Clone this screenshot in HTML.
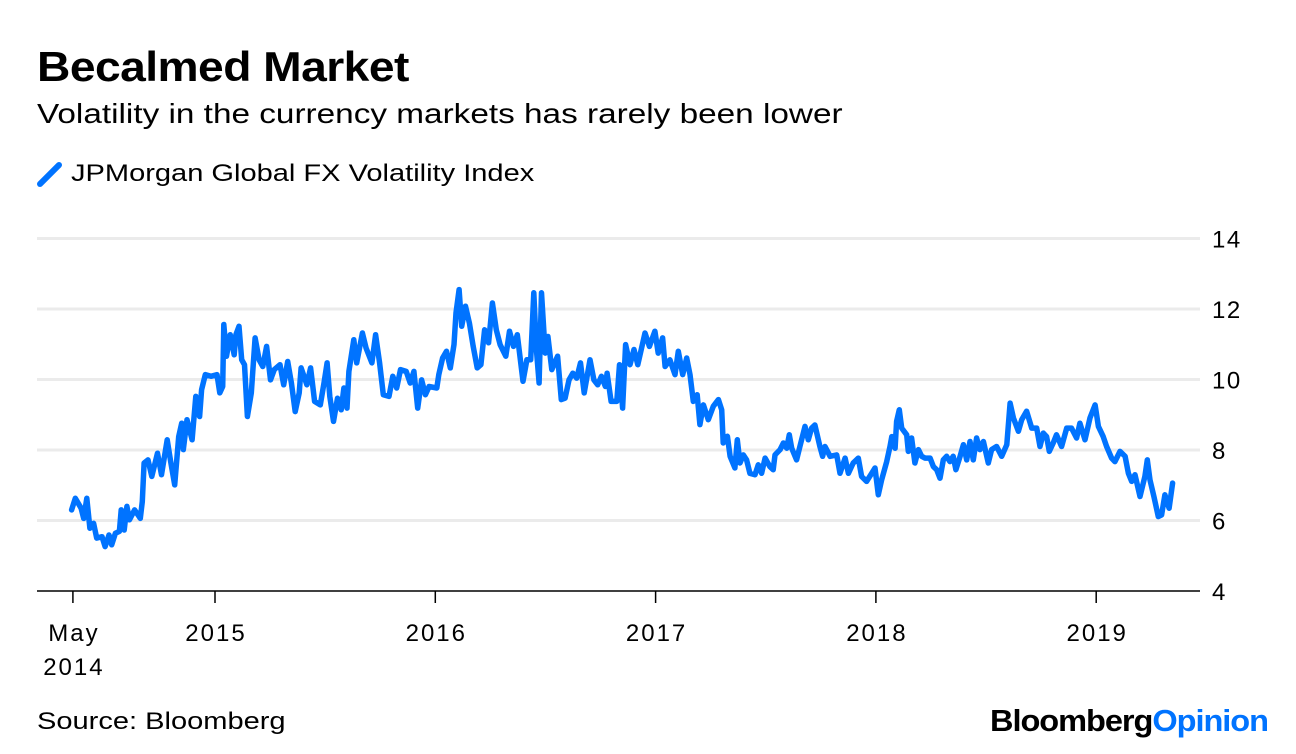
<!DOCTYPE html>
<html><head><meta charset="utf-8">
<style>
body{margin:0;background:#fff;width:1296px;height:754px;overflow:hidden;font-family:"Liberation Sans",Arial,sans-serif;}
#wrap{position:relative;width:1296px;height:754px;}
.t{position:absolute;white-space:nowrap;color:#000;transform-origin:0 50%;}
</style></head><body>
<div id="wrap">
<div class="t" style="left:37px;top:43px;font-size:42px;font-weight:bold;letter-spacing:-0.5px;transform:scaleX(1.10);">Becalmed Market</div>
<div class="t" style="left:37px;top:98px;font-size:28px;transform:scaleX(1.19);">Volatility in the currency markets has rarely been lower</div>
<div style="position:absolute;left:37px;top:160px;">
<svg width="30" height="30" style="position:absolute;left:0;top:0"><line x1="3" y1="24" x2="22" y2="5" stroke="#0073ff" stroke-width="6" stroke-linecap="round"/></svg>
<div class="t" style="left:34px;top:0px;font-size:24px;transform:scaleX(1.21);">JPMorgan Global FX Volatility Index</div>
</div>
<svg id="chart" width="1296" height="754" style="position:absolute;left:0;top:0"></svg>
<div class="t" style="left:37px;top:708px;font-size:24px;transform:scaleX(1.21);">Source: Bloomberg</div>
<div class="t" style="left:990px;top:703px;font-size:31px;font-weight:bold;letter-spacing:-1px;transform:scaleX(1.05);"><span style="color:#000">Bloomberg</span><span style="color:#0073ff">Opinion</span></div>
</div>
<script>
const dates=[2014.349,2014.366,2014.392,2014.404,2014.418,2014.432,2014.449,2014.463,2014.487,2014.501,2014.519,2014.531,2014.548,2014.566,2014.574,2014.588,2014.600,2014.612,2014.635,2014.661,2014.670,2014.678,2014.696,2014.713,2014.739,2014.757,2014.783,2014.800,2014.817,2014.835,2014.849,2014.856,2014.873,2014.896,2014.913,2014.930,2014.939,2014.956,2014.982,2015.009,2015.022,2015.035,2015.040,2015.052,2015.069,2015.087,2015.095,2015.109,2015.121,2015.134,2015.147,2015.165,2015.182,2015.200,2015.217,2015.234,2015.252,2015.269,2015.295,2015.312,2015.330,2015.347,2015.364,2015.382,2015.391,2015.417,2015.434,2015.452,2015.478,2015.495,2015.509,2015.521,2015.538,2015.556,2015.573,2015.585,2015.599,2015.608,2015.630,2015.643,2015.669,2015.686,2015.712,2015.729,2015.747,2015.764,2015.790,2015.807,2015.825,2015.842,2015.868,2015.886,2015.903,2015.920,2015.938,2015.955,2015.972,2016.007,2016.016,2016.033,2016.051,2016.068,2016.085,2016.094,2016.108,2016.120,2016.137,2016.155,2016.172,2016.190,2016.207,2016.224,2016.242,2016.259,2016.277,2016.294,2016.320,2016.337,2016.355,2016.372,2016.398,2016.416,2016.433,2016.447,2016.459,2016.471,2016.482,2016.499,2016.511,2016.529,2016.555,2016.572,2016.589,2016.607,2016.624,2016.642,2016.659,2016.676,2016.702,2016.720,2016.737,2016.754,2016.772,2016.780,2016.798,2016.824,2016.836,2016.850,2016.864,2016.884,2016.902,2016.919,
2016.952,2016.972,2016.997,2017.012,2017.032,2017.043,2017.065,2017.088,2017.103,2017.123,2017.141,2017.156,2017.171,2017.189,2017.201,2017.217,2017.239,2017.262,2017.285,2017.300,2017.307,2017.326,2017.338,2017.360,2017.371,2017.383,2017.398,2017.413,2017.428,2017.451,2017.466,2017.481,2017.497,2017.519,2017.534,2017.542,2017.565,2017.580,2017.595,2017.607,2017.618,2017.640,2017.655,2017.678,2017.693,2017.708,2017.723,2017.746,2017.758,2017.769,2017.792,2017.822,2017.837,2017.860,2017.875,2017.897,2017.920,2017.935,2017.958,2017.981,2017.996,2018.011,2018.026,2018.049,2018.064,2018.072,2018.087,2018.094,2018.106,2018.117,2018.140,2018.147,2018.162,2018.177,2018.193,2018.208,2018.223,2018.246,2018.261,2018.276,2018.291,2018.306,2018.321,2018.336,2018.351,2018.363,2018.382,2018.397,2018.412,2018.427,2018.442,2018.457,2018.472,2018.488,2018.510,2018.525,2018.548,2018.571,2018.594,2018.609,2018.624,2018.647,2018.662,2018.684,2018.707,2018.730,2018.745,2018.760,2018.775,2018.787,2018.805,2018.820,2018.843,2018.866,2018.888,2018.911,2018.926,2018.949,2018.972,2018.995,2019.010,2019.032,2019.047,2019.070,2019.085,2019.108,2019.131,2019.146,2019.161,2019.176,2019.199,2019.221,2019.232,2019.244,2019.262,2019.282,2019.297,2019.312,2019.331,2019.347];
const fxVol=[6.30,6.63,6.35,6.06,6.63,5.78,5.92,5.50,5.54,5.26,5.59,5.31,5.64,5.69,6.30,5.73,6.40,6.02,6.30,6.06,6.54,7.63,7.72,7.25,7.91,7.30,8.29,7.63,7.01,8.38,8.76,8.01,8.86,8.29,9.52,8.95,9.71,10.14,10.09,10.14,9.62,9.80,11.56,10.66,11.27,10.70,11.27,11.51,10.56,10.42,8.95,9.62,11.18,10.56,10.37,10.94,9.99,10.28,10.42,9.85,10.51,9.90,9.09,9.62,10.33,9.85,10.33,9.38,9.28,9.90,10.47,9.52,8.81,9.47,9.14,9.76,9.19,10.23,11.13,10.47,11.32,10.89,10.47,11.27,10.47,9.57,9.52,10.09,9.76,10.28,10.23,9.90,10.23,9.19,9.99,9.57,9.80,9.76,10.14,10.61,10.80,10.33,10.99,11.89,12.55,11.51,12.08,11.60,10.94,10.33,10.42,11.41,11.04,12.17,11.41,10.99,10.66,11.37,10.94,11.27,9.95,10.56,10.56,12.46,10.85,9.90,12.46,10.75,11.22,10.28,10.66,9.43,9.47,9.99,10.18,10.04,10.47,9.62,10.56,9.99,9.85,10.09,9.80,10.18,9.38,9.38,10.42,9.19,10.99,10.42,10.85,10.42,
11.32,10.94,11.37,10.75,11.18,10.37,10.56,10.14,10.80,10.14,10.61,10.14,9.38,9.57,8.72,9.28,8.86,9.24,9.43,9.14,8.20,8.39,7.82,7.49,8.29,7.63,7.86,7.72,7.34,7.30,7.58,7.34,7.77,7.53,7.44,7.86,8.01,8.20,8.05,8.43,8.05,7.72,8.10,8.67,8.29,8.62,8.71,8.10,7.82,8.10,7.82,7.86,7.34,7.77,7.34,7.63,7.77,7.25,7.11,7.34,7.49,6.73,7.15,7.67,8.10,8.38,8.05,8.81,9.14,8.62,8.43,7.96,8.34,7.63,8.01,7.82,7.77,7.77,7.53,7.44,7.20,7.72,7.82,7.67,7.82,7.44,7.82,8.15,7.72,8.24,7.72,8.34,8.01,8.24,7.63,8.01,8.10,7.82,8.15,9.33,8.91,8.53,8.86,9.10,8.62,8.62,8.10,8.48,8.38,7.96,8.20,8.43,8.10,8.62,8.62,8.34,8.76,8.29,8.91,9.28,8.67,8.38,8.10,7.77,7.67,7.96,7.82,7.34,7.11,7.30,6.68,7.25,7.72,7.15,6.68,6.11,6.16,6.73,6.35,7.06];
const yTicks=[4,6,8,10,12,14];
const xTickDates=[2014.355,2015,2016,2017,2018,2019];
const xTickLabels=[["May","2014"],["2015"],["2016"],["2017"],["2018"],["2019"]];

const NS="http://www.w3.org/2000/svg";
const svg=document.getElementById('chart');
function xS(t){return 215+(t-2015)*220.3;}
function yS(v){return 591-(v-4)*35.25;}
function mk(tag,attrs){const e=document.createElementNS(NS,tag);for(const k in attrs)e.setAttribute(k,attrs[k]);svg.appendChild(e);return e;}

yTicks.forEach(v=>{
  if(v!==4){
    const g=mk('line',{x1:37,x2:1200,y1:yS(v),y2:yS(v),stroke:'#ebebeb','stroke-width':3});
    
    
  }
  const tx=mk('text',{x:1212,y:yS(v)+9,'font-size':24,'letter-spacing':'1.5px','font-family':'Liberation Sans, Arial, sans-serif',fill:'#000'});
  tx.textContent=v;
  
  
});
const ax=mk('line',{x1:37,x2:1200,y1:591,y2:591,stroke:'#000','stroke-width':1.5});


xTickDates.forEach((t,i)=>{
  const tk=mk('line',{x1:xS(t),x2:xS(t),y1:591,y2:603,stroke:'#000','stroke-width':1.5});
  
  
  xTickLabels[i].forEach((s,j)=>{
    const tx=mk('text',{x:xS(t)+1,y:641+j*34,'font-size':24,'letter-spacing':'2px','text-anchor':'middle','font-family':'Liberation Sans, Arial, sans-serif',fill:'#000'});
    tx.textContent=s;
    
    
  });
});
let d='';
dates.forEach((t,i)=>{d+=(i?'L':'M')+xS(t).toFixed(1)+' '+yS(fxVol[i]).toFixed(1);});
const p=mk('path',{d:d,fill:'none',stroke:'#0073ff','stroke-width':5.5,'stroke-linejoin':'round','stroke-linecap':'round'});


</script>
</body></html>
